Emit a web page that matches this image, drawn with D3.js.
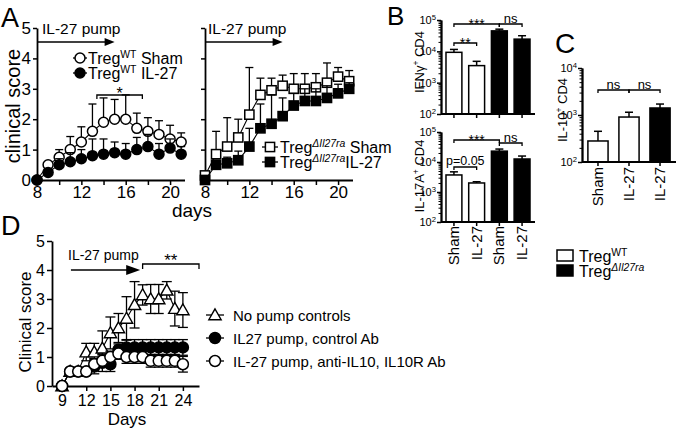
<!DOCTYPE html>
<html><head><meta charset="utf-8">
<script src="https://cdn.jsdelivr.net/npm/d3@7"></script>
<style>
body{margin:0;background:#fff}
svg{font-family:Arial,"Liberation Sans",Helvetica,sans-serif}
</style>
</head><body>
<svg id="c" width="677" height="433"></svg>
<script>
// ---------------- DATA ----------------
const daysA = [8,9,10,11,12,13,14,15,16,17,18,19,20,21];
const wtSham    = [0,0.5,0.75,1.0,1.25,1.6,1.9,2.0,2.0,1.7,1.6,1.5,1.35,1.25];
const wtShamErr = [0,0.1,0.25,0.43,0.5,0.9,0.8,0.65,0.8,0.5,0.45,0.45,0.45,0.3];
const wtIL27    = [0,0.25,0.5,0.6,0.7,0.8,0.85,0.9,0.85,1.0,1.1,0.85,1.05,0.85];
const wtIL27Err = [0,0.1,0.2,0.3,0.3,0.55,0.5,0.35,0.35,0.4,0.4,0.35,0.3,0.25];
const koSham    = [0.15,0.85,1.1,1.4,2.15,2.8,2.95,3.1,3.0,3.0,3.05,3.2,3.4,3.25];
const koShamErr = [0.1,0.75,0.95,0.6,1.55,0.55,0.4,0.35,0.5,0.5,0.45,0.65,0.3,0.35];
const koIL27    = [0,0.5,0.55,0.65,1.1,1.7,1.85,2.1,2.45,2.6,2.6,2.7,2.85,3.0];
const koIL27Err = [0,0.15,0.2,0.3,0.6,0.8,0.95,0.6,0.4,0.4,0.4,0.4,0.3,0.2];
const ticksA = [8,10,12,14,16,18,20];
const ticksALabel = [8,12,16,20];

const catsB = ["Sham","IL-27","Sham","IL-27"];
const ifng    = [9300,3500,45000,24500];
const ifngErr = [2200,1300,6000,7000];
const il17    = [3700,2000,23000,12600];
const il17Err = [1000,200,4000,3200];
const catsC = ["Sham","IL-27","IL-27"];
const il10    = [280,905,1410];
const il10Err = [170,240,300];

const daysD = [9,10,11,12,13,14,15,16,17,18,19,20,21,22,23,24];
const noPump    = [0,0.5,0.5,1.17,1.17,1.3,1.83,2.0,2.33,2.8,3.14,3.0,3.0,3.3,2.67,2.62];
const noPumpErr = [0,0,0,0.3,0.3,0.6,0.55,0.5,0.75,0.8,0.35,0.5,0.5,0.3,0.6,0.6];
const ctrlAb    = [0,0.5,0.5,0.5,0.67,0.8,0.75,1.25,1.33,1.33,1.33,1.33,1.33,1.33,1.33,1.33];
const ctrlAbErr = [0,0,0,0,0.25,0.3,0.25,0.2,0.27,0.27,0.27,0.27,0.27,0.27,0.27,0.27];
const antiIL10    = [0,0.5,0.5,0.5,0.75,0.87,1.0,1.12,1.0,1.0,1.0,0.87,0.87,0.87,0.87,0.75];
const antiIL10Err = [0,0,0,0,0.2,0.2,0.2,0.2,0.22,0.22,0.22,0.22,0.22,0.22,0.22,0.27];
const ticksD = [9,12,15,18,21,24];
const ticksY = [0,1,2,3,4,5];

// ---------------- HELPERS ----------------
const svg = d3.select("#c");
const fmtInt = d3.format("d");

function rich(g, x, y, parts, size, rot) {
  const t = g.append("text").attr("x", x).attr("y", y).attr("font-size", size);
  if (rot) t.attr("transform", `rotate(${rot},${x},${y})`);
  let shift = 0;
  parts.forEach(p => {
    const s = typeof p === "string" ? {t: p} : p;
    const target = s.sup ? -size * 0.4 : 0;
    const ts = t.append("tspan").text(s.t).attr("dy", target - shift);
    shift = target;
    if (s.sup) ts.attr("font-size", size * 0.65);
    if (s.it) ts.attr("font-style", "italic");
  });
  return t;
}

function marker(g, shape, cx, cy, fill, s) {
  if (shape === "circle") {
    g.append("circle").attr("cx", cx).attr("cy", cy).attr("r", s)
      .attr("fill", fill).attr("stroke", "#000").attr("stroke-width", 1.5);
  } else if (shape === "square") {
    g.append("rect").attr("x", cx - s).attr("y", cy - s).attr("width", 2 * s).attr("height", 2 * s)
      .attr("fill", fill).attr("stroke", "#000").attr("stroke-width", 1.5);
  } else {
    g.append("path").attr("d", `M${cx},${cy - s * 1.1}L${cx - s * 1.1},${cy + s * 0.85}L${cx + s * 1.1},${cy + s * 0.85}Z`)
      .attr("fill", fill).attr("stroke", "#000").attr("stroke-width", 1.4);
  }
}

function series(g, xs, ys, errs, x, y, opt) {
  const pts = xs.map((d, i) => ({d, v: ys[i], e: errs[i]}));
  const eg = g.append("g").attr("stroke", "#000").attr("stroke-width", 1.3);
  const cw = opt.cap || 4;
  pts.filter(p => p.e > 0).forEach(p => {
    const cx = x(p.d);
    const up = opt.dir !== "down", dn = opt.dir !== "up";
    const y1 = dn ? y(p.v - p.e) : y(p.v), y2 = up ? y(p.v + p.e) : y(p.v);
    eg.append("line").attr("x1", cx).attr("x2", cx).attr("y1", y1).attr("y2", y2);
    if (up) eg.append("line").attr("x1", cx - cw).attr("x2", cx + cw).attr("y1", y2).attr("y2", y2);
    if (dn) eg.append("line").attr("x1", cx - cw).attr("x2", cx + cw).attr("y1", y1).attr("y2", y1);
  });
  g.append("path").datum(pts)
    .attr("d", d3.line().x(p => x(p.d)).y(p => y(p.v)))
    .attr("fill", "none").attr("stroke", "#000").attr("stroke-width", 1.1);
  const mg = g.append("g");
  pts.forEach(p => marker(mg, opt.shape, x(p.d), y(p.v), opt.fill, opt.size));
}

function styleAxis(ag, size) {
  ag.selectAll(".domain").attr("stroke", "#000").attr("stroke-width", 1.8);
  ag.selectAll(".tick line").attr("stroke", "#000").attr("stroke-width", 1.5);
  ag.selectAll("text").attr("font-size", size).attr("fill", "#000");
  ag.attr("font-family", null).attr("font-size", null);
}

function arrow(g, x1, x2, y, head, hw) {
  g.append("line").attr("x1", x1).attr("x2", x2 - head + 1).attr("y1", y).attr("y2", y)
    .attr("stroke", "#000").attr("stroke-width", 1.6);
  g.append("path").attr("d", `M${x2},${y}L${x2 - head},${y - hw}L${x2 - head},${y + hw}Z`).attr("fill", "#000");
}

function bracket(g, x1, x2, y, label, size, dyText, tick) {
  const tk = tick == null ? 3 : tick;
  g.append("path").attr("d", `M${x1},${y + tk}V${y}H${x2}V${y + tk}`)
    .attr("fill", "none").attr("stroke", "#000").attr("stroke-width", 1.3);
  g.append("text").attr("x", (x1 + x2) / 2).attr("y", y + dyText).attr("text-anchor", "middle")
    .attr("font-size", size).text(label);
}

function supLabels(ag) {
  ag.selectAll(".tick text").each(function(d) {
    const t = d3.select(this);
    t.text("");
    t.append("tspan").text("10");
    t.append("tspan").attr("font-size", "0.7em").attr("dy", "-0.5em").text(Math.round(Math.log10(d)));
  });
}

// ---------------- PANEL A ----------------
const gA = svg.append("g");
const yA = d3.scaleLinear().domain([0, 5]).range([180, 28]);
const xA1 = d3.scaleLinear().domain([8, 21.3]).range([37, 184.5]);
const xA2 = d3.scaleLinear().domain([8, 21.3]).range([205, 352.5]);

gA.append("text").attr("x", 1).attr("y", 27).attr("font-size", 27).text("A");

let ax = gA.append("g").attr("transform", "translate(0,180)")
  .call(d3.axisBottom(xA1).tickValues(ticksA).tickFormat(d => ticksALabel.includes(d) ? d : "").tickSize(5).tickSizeOuter(0).tickPadding(1));
styleAxis(ax, 17);
ax = gA.append("g").attr("transform", "translate(37,0)")
  .call(d3.axisLeft(yA).tickValues(ticksY).tickFormat(fmtInt).tickSize(4).tickSizeOuter(0).tickPadding(2));
styleAxis(ax, 17);
ax = gA.append("g").attr("transform", "translate(0,180)")
  .call(d3.axisBottom(xA2).tickValues(ticksA).tickFormat(d => ticksALabel.includes(d) ? d : "").tickSize(5).tickSizeOuter(0).tickPadding(1));
styleAxis(ax, 17);
ax = gA.append("g").attr("transform", "translate(205,0)")
  .call(d3.axisLeft(yA).tickValues(ticksY).tickFormat("").tickSize(4).tickSizeOuter(0));
styleAxis(ax, 17);

gA.append("text").attr("transform", "translate(20,106) rotate(-90)").attr("text-anchor", "middle")
  .attr("font-size", 20).text("clinical score");
gA.append("text").attr("x", 192).attr("y", 217).attr("text-anchor", "middle").attr("font-size", 19).text("days");

gA.append("text").attr("x", 42).attr("y", 33.5).attr("font-size", 15.5).text("IL-27 pump");
arrow(gA, xA1(8), xA1(15), 42, 10, 4);
gA.append("text").attr("x", 208).attr("y", 33.5).attr("font-size", 15.5).text("IL-27 pump");
arrow(gA, xA2(8), xA2(15), 42, 10, 4);

series(gA, daysA, wtSham, wtShamErr, xA1, yA, {shape: "circle", fill: "#fff", size: 5, dir: "up", cap: 4});
series(gA, daysA, wtIL27, wtIL27Err, xA1, yA, {shape: "circle", fill: "#000", size: 5, dir: "up", cap: 4});
series(gA, daysA, koSham, koShamErr, xA2, yA, {shape: "square", fill: "#fff", size: 4.6, dir: "up", cap: 4});
series(gA, daysA, koIL27, koIL27Err, xA2, yA, {shape: "square", fill: "#000", size: 4.6, dir: "up", cap: 4});

bracket(gA, xA1(13.4), xA1(17.5), 95, "*", 16, 4, 4);

function legLine(g, x1, x2, y) {
  g.append("line").attr("x1", x1).attr("x2", x2).attr("y1", y).attr("y2", y).attr("stroke", "#000").attr("stroke-width", 1.3);
}
legLine(gA, 73, 87, 58); marker(gA, "circle", 80, 58, "#fff", 5);
rich(gA, 88, 64, ["Treg", {t: "WT", sup: true}, " Sham"], 16);
legLine(gA, 73, 87, 73); marker(gA, "circle", 80, 73, "#000", 5);
rich(gA, 88, 79, ["Treg", {t: "WT", sup: true}, " IL-27"], 16);

legLine(gA, 262, 278, 147); marker(gA, "square", 270, 147, "#fff", 4.6);
rich(gA, 280, 153, ["Treg", {t: "ΔIl27ra", sup: true, it: true}, " Sham"], 16);
legLine(gA, 262, 278, 162); marker(gA, "square", 270, 162, "#000", 4.6);
rich(gA, 280, 168, ["Treg", {t: "ΔIl27ra", sup: true, it: true}, "IL-27"], 16);

// ---------------- PANEL B ----------------
const gB = svg.append("g");
gB.append("text").attr("x", 387).attr("y", 25).attr("font-size", 26).text("B");
const xB = d3.scaleBand().domain(d3.range(catsB.length)).range([441, 535]).paddingInner(0.3).paddingOuter(0.22);
const yB1 = d3.scaleLog().domain([100, 1e5]).range([114, 20]);
const yB2 = d3.scaleLog().domain([100, 1e5]).range([222, 132]);
const fillsB = ["#fff", "#fff", "#000", "#000"];
const majorLog = [1e2, 1e3, 1e4, 1e5];
function minorTicks(lo, hi) {
  const out = [];
  for (let e = lo; e < hi; e++) for (let k = 2; k <= 9; k++) out.push(k * Math.pow(10, e));
  return out;
}

function barPanel(g, cats, vals, errs, x, y, fills, majors, minors, axisX, capW) {
  const base = y.range()[0];
  g.append("g").selectAll("rect").data(vals).join("rect")
    .attr("x", (d, i) => x(i)).attr("width", x.bandwidth())
    .attr("y", d => y(d)).attr("height", d => base - y(d))
    .attr("fill", (d, i) => fills[i]).attr("stroke", "#000").attr("stroke-width", 1.5);
  const eg = g.append("g").attr("stroke", "#000").attr("stroke-width", 1.5);
  vals.forEach((v, i) => {
    const cx = x(i) + x.bandwidth() / 2;
    eg.append("line").attr("x1", cx).attr("x2", cx).attr("y1", y(v)).attr("y2", y(v + errs[i]));
    eg.append("line").attr("x1", cx - capW).attr("x2", cx + capW).attr("y1", y(v + errs[i])).attr("y2", y(v + errs[i]));
  });
  let a = g.append("g").attr("transform", `translate(${axisX},0)`)
    .call(d3.axisLeft(y).tickValues(minors).tickFormat("").tickSize(2.5).tickSizeOuter(0));
  styleAxis(a, 11);
  a.selectAll(".tick line").attr("stroke-width", 1);
  a = g.append("g").attr("transform", `translate(${axisX},0)`)
    .call(d3.axisLeft(y).tickValues(majors).tickSize(4).tickSizeOuter(0).tickPadding(1));
  styleAxis(a, 11);
  supLabels(a);
  a = g.append("g").attr("transform", `translate(0,${base})`)
    .call(d3.axisBottom(x).tickFormat("").tickSize(4).tickSizeOuter(0));
  styleAxis(a, 11);
  a.select(".domain").attr("d", `M${axisX},0H${x.range()[1]}`);
}

barPanel(gB, catsB, ifng, ifngErr, xB, yB1, fillsB, majorLog, minorTicks(2, 5), 441, 4);
barPanel(gB, catsB, il17, il17Err, xB, yB2, fillsB, majorLog, minorTicks(2, 5), 441, 4);

const cB = i => xB(i) + xB.bandwidth() / 2;
bracket(gB, cB(0), cB(2), 24, "***", 14, 5);
bracket(gB, cB(2), cB(3), 24, "ns", 13, -1.5);
bracket(gB, cB(0), cB(1), 43, "**", 14, 5);
bracket(gB, cB(0), cB(2), 140, "***", 14, 5);
bracket(gB, cB(2), cB(3), 143, "ns", 13, -1.5);
bracket(gB, cB(0), cB(1), 167, "p=0.05", 12.5, -2.5);

rich(gB, 424, 62, ["IFNγ", {t: "+", sup: true}, " CD4"], 13, -90).attr("text-anchor", "middle");
rich(gB, 424, 176, ["IL-17A", {t: "+", sup: true}, " CD4"], 13, -90).attr("text-anchor", "middle");

gB.append("g").selectAll("text").data(catsB).join("text")
  .attr("transform", (d, i) => `translate(${cB(i) + 5},226) rotate(-90)`)
  .attr("text-anchor", "end").attr("font-size", 15).text(d => d);

// ---------------- PANEL C ----------------
const gC = svg.append("g");
gC.append("text").attr("x", 555).attr("y", 53).attr("font-size", 28).text("C");
const xC = d3.scaleBand().domain(d3.range(catsC.length)).range([582, 676]).paddingInner(0.35).paddingOuter(0.19);
const yC = d3.scaleLog().domain([100, 1e4]).range([162, 68]);
barPanel(gC, catsC, il10, il10Err, xC, yC, ["#fff", "#fff", "#000"], [1e2, 1e3, 1e4], minorTicks(2, 4), 582, 4);
const cC = i => xC(i) + xC.bandwidth() / 2;
bracket(gC, cC(0), cC(1), 90, "ns", 13, -1.5);
bracket(gC, cC(1), cC(2), 90, "ns", 13, -1.5);
rich(gC, 567, 110, ["IL-10", {t: "+", sup: true}, " CD4"], 13, -90).attr("text-anchor", "middle");
gC.append("g").selectAll("text").data(catsC).join("text")
  .attr("transform", (d, i) => `translate(${cC(i) + 5},167) rotate(-90)`)
  .attr("text-anchor", "end").attr("font-size", 15).text(d => d);

gC.append("rect").attr("x", 557).attr("y", 250).attr("width", 16).attr("height", 11).attr("fill", "#fff").attr("stroke", "#000").attr("stroke-width", 1.5);
rich(gC, 579, 262, ["Treg", {t: "WT", sup: true}], 16);
gC.append("rect").attr("x", 557).attr("y", 265).attr("width", 16).attr("height", 11).attr("fill", "#000").attr("stroke", "#000").attr("stroke-width", 1.5);
rich(gC, 579, 277, ["Treg", {t: "ΔIl27ra", sup: true, it: true}], 16);

// ---------------- PANEL D ----------------
const gD = svg.append("g");
gD.append("text").attr("x", 1).attr("y", 235).attr("font-size", 27).text("D");
const xD = d3.scaleLinear().domain([7.75, 26]).range([52, 199]);
const yD = d3.scaleLinear().domain([0, 5]).range([386, 241]);
ax = gD.append("g").attr("transform", "translate(0,386)")
  .call(d3.axisBottom(xD).tickValues(ticksD).tickFormat(fmtInt).tickSize(5).tickSizeOuter(0).tickPadding(4));
styleAxis(ax, 16);
ax = gD.append("g").attr("transform", "translate(52,0)")
  .call(d3.axisLeft(yD).tickValues(ticksY).tickFormat(fmtInt).tickSize(5).tickSizeOuter(0).tickPadding(2));
styleAxis(ax, 16);
gD.append("text").attr("transform", "translate(31,322) rotate(-90)").attr("text-anchor", "middle")
  .attr("font-size", 17).text("Clinical score");
gD.append("text").attr("x", 127).attr("y", 425).attr("text-anchor", "middle").attr("font-size", 17).text("Days");

gD.append("text").attr("x", 68).attr("y", 260).attr("font-size", 14).text("IL-27 pump");
arrow(gD, xD(10.1), xD(18.7), 270, 14, 5);
bracket(gD, xD(19), xD(26), 264, "**", 17, 1.5, 5);

series(gD, daysD, noPump, noPumpErr, xD, yD, {shape: "tri", fill: "#fff", size: 5.6, dir: "both", cap: 5});
series(gD, daysD, ctrlAb, ctrlAbErr, xD, yD, {shape: "circle", fill: "#000", size: 5.5, dir: "both", cap: 5});
series(gD, daysD, antiIL10, antiIL10Err, xD, yD, {shape: "circle", fill: "#fff", size: 5.5, dir: "both", cap: 5});

legLine(gD, 206, 224, 315); marker(gD, "tri", 215, 315, "#fff", 5.6);
gD.append("text").attr("x", 233).attr("y", 320.5).attr("font-size", 15).text("No pump controls");
legLine(gD, 206, 224, 338); marker(gD, "circle", 215, 338, "#000", 5.5);
gD.append("text").attr("x", 233).attr("y", 343.5).attr("font-size", 15).text("IL27 pump, control Ab");
legLine(gD, 206, 224, 361); marker(gD, "circle", 215, 361, "#fff", 5.5);
gD.append("text").attr("x", 233).attr("y", 366.5).attr("font-size", 15).text("IL-27 pump, anti-IL10, IL10R Ab");
</script>
</body></html>
